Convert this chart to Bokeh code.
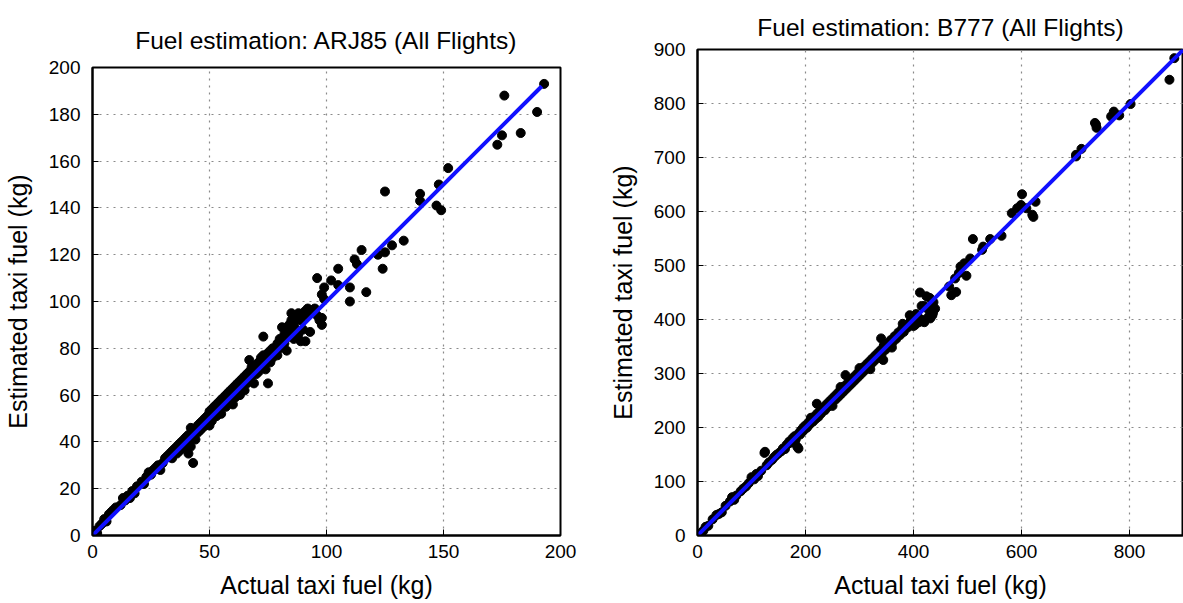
from bokeh.plotting import figure
from bokeh.layouts import row, column
from bokeh.models import FixedTicker, Range1d
from bokeh.embed import file_html
from bokeh.resources import INLINE

# ---------------- data: ARJ85 ----------------
arj_title = "Fuel estimation: ARJ85 (All Flights)"
arj_actual = [
    1, 2, 3, 4, 5, 6, 7, 8, 9, 10,
    12, 13, 14, 15, 16, 17, 18, 19,
    21, 22, 23, 24, 25, 26, 27, 28, 29, 30,
    31, 32, 33, 34, 34, 35, 36, 36, 37, 37, 38, 38, 39, 39, 40, 40, 41, 41, 42, 42, 41, 43,
    43, 44, 44, 45, 45, 46, 46, 47, 47, 48, 48, 49, 49, 50, 50, 50,
    51, 51, 52, 52, 53, 53, 54, 54, 55, 55, 55, 56, 56, 57, 57, 58, 58, 59, 59, 60, 60, 60,
    61, 61, 62, 62, 63, 63, 64, 64, 65, 65, 66, 66, 67, 67, 67, 68, 68, 69, 69, 70, 70,
    71, 71, 72, 72, 73, 73, 74, 74, 75, 75, 76, 76, 77, 77, 78, 78, 79, 79, 80, 80,
    81, 82, 82, 83, 83, 84, 84, 85, 85, 85, 86, 86, 87, 87, 88, 88, 89, 89, 90, 90, 91, 91,
    92, 92, 93, 94, 95, 96, 96, 97, 98, 98, 98, 99, 99,
    102, 105, 105, 110, 110, 112, 113, 115, 117, 122, 124, 125, 125, 128, 133,
    140, 140, 147, 149, 148, 152, 173, 175, 176, 183, 190, 193,
]
arj_estimated = [
    2, 1, 4, 5, 7, 6, 9, 10, 11, 12,
    13, 16, 15, 17, 16, 19, 18, 21,
    23, 22, 25, 27, 26, 28, 29, 30, 28, 31,
    33, 34, 35, 36, 33, 37, 35, 38, 39, 36, 40, 37, 41, 38, 42, 39, 43, 40, 46, 38, 35, 31,
    45, 44, 41, 47, 44, 48, 45, 49, 46, 50, 47, 51, 48, 53, 50, 47,
    54, 49, 55, 52, 56, 51, 57, 53, 58, 55, 52, 59, 56, 60, 55, 61, 58, 62, 57, 63, 60, 56,
    64, 59, 65, 62, 66, 60, 67, 64, 68, 62, 69, 65, 70, 66, 75, 72, 68, 71, 65, 73, 69,
    74, 70, 76, 72, 77, 85, 75, 71, 78, 65, 79, 74, 80, 76, 80, 78, 82, 77, 84, 80,
    89, 86, 82, 88, 79, 90, 85, 87, 92, 95, 90, 84, 93, 88, 95, 86, 92, 83, 95, 88, 96, 83,
    97, 94, 87, 96, 97, 94, 110, 92, 103, 93, 90, 106, 101,
    109, 114, 107, 106, 100, 118, 116, 122, 104, 120, 114, 121, 147, 124, 126,
    146, 143, 141, 139, 150, 157, 167, 171, 188, 172, 181, 193,
]
arj_fit_x = [0, 192]
arj_fit_y = [0, 192]
arj_xticks = [0, 50, 100, 150, 200]
arj_yticks = [0, 20, 40, 60, 80, 100, 120, 140, 160, 180, 200]

# ---------------- data: B777 ----------------
b777_title = "Fuel estimation: B777 (All Flights)"
b777_actual = [
    5, 8, 11, 15, 20, 28, 35, 40, 45, 52, 60, 64, 68, 72, 80, 85, 90, 95, 100, 105,
    109, 112, 118, 124, 125, 128, 132, 138, 142, 146, 150, 155, 158, 162, 165, 168, 170, 174,
    176, 178, 180, 180, 182, 185, 187, 188, 190, 192, 194, 196, 198,
    200, 203, 206, 208, 210, 212, 214, 217, 219, 221, 222, 224, 227, 229, 232, 235, 236, 239, 241,
    244, 246, 249, 250, 251, 254, 256, 259, 261, 264, 265, 266, 269, 271, 274, 274, 276, 279, 281,
    284, 286, 289, 291, 294, 296, 299, 300,
    301, 304, 306, 309, 311, 314, 316, 319, 320, 321, 324, 326, 329, 331, 334, 336, 340, 339, 341,
    344, 345, 346, 348, 352, 355, 358, 360, 361, 365, 368, 372, 375, 379, 380, 382, 386, 389, 393,
    395, 398, 400, 403, 405, 409, 410, 412, 415, 417, 420, 420, 424, 426, 428, 430, 431, 435,
    436, 437, 440,
    466, 470, 477, 479, 484, 487, 494, 498, 505, 510, 527, 529, 542, 563, 582, 592, 599, 601,
    609, 620, 622, 626, 701, 701, 711, 736, 738, 739, 766, 771, 781, 802, 874, 883,
]
b777_estimated = [
    3, 6, 9, 16, 18, 30, 38, 40, 43, 55, 63, 71, 66, 74, 82, 87, 91, 97, 108, 104,
    114, 110, 120, 153, 155, 130, 135, 140, 145, 149, 152, 156, 161, 160, 168, 170, 174, 172,
    180, 175, 184, 172, 178, 164, 161, 190, 187, 195, 192, 200, 196,
    204, 200, 210, 206, 218, 215, 211, 221, 216, 244, 226, 220, 231, 226, 236, 238, 232, 243, 238,
    248, 243, 253, 240, 249, 258, 252, 263, 257, 268, 275, 262, 273, 267, 297, 278, 272, 283, 277,
    288, 282, 293, 287, 298, 292, 303, 310,
    297, 308, 302, 313, 307, 318, 312, 323, 308, 317, 328, 322, 333, 327, 338, 332, 365, 343, 336,
    325, 352, 350, 344, 356, 350, 362, 348, 357, 369, 364, 376, 371, 383, 392, 377, 390, 385, 408,
    398, 392, 388, 390, 410, 404, 395, 450, 425, 399, 425, 395, 443, 420, 405, 440, 402, 408,
    412, 432, 420,
    461, 445, 476, 451, 486, 498, 504, 481, 513, 549, 529, 535, 549, 555, 597, 606, 612, 632,
    606, 594, 590, 618, 705, 702, 716, 764, 761, 755, 776, 785, 778, 799, 844, 884,
]
b777_fit_x = [0, 900]
b777_fit_y = [0, 900]
b777_xticks = [0, 200, 400, 600, 800]
b777_yticks = [0, 100, 200, 300, 400, 500, 600, 700, 800, 900]

x_label = "Actual taxi fuel (kg)"
y_label = "Estimated taxi fuel (kg)"

FONT = "Liberation Sans"


def make_panel(title, xs, ys, fx, fy, xmax, ymax, xticks, yticks,
               width, height, bl, br, bt, bb, title_pad):
    p = figure(width=width, height=height,
               x_range=Range1d(0, xmax), y_range=Range1d(0, ymax),
               output_backend="svg", toolbar_location=None,
               min_border_left=bl, min_border_right=br,
               min_border_top=bt, min_border_bottom=bb,
               title=title)
    p.title.text_font = FONT
    p.title.text_font_size = "24.5px"
    p.title.text_font_style = "normal"
    p.title.align = "center"
    p.title.text_color = "black"
    p.title.standoff = 18
    if title_pad:
        try:
            p.title.padding = title_pad
        except Exception:
            pass

    p.outline_line_color = "black"
    p.outline_line_width = 2
    p.background_fill_color = "white"
    p.border_fill_color = "white"

    p.xaxis.ticker = FixedTicker(ticks=xticks)
    p.yaxis.ticker = FixedTicker(ticks=yticks)
    p.xaxis.axis_label = x_label
    p.yaxis.axis_label = y_label
    for ax in p.xaxis + p.yaxis:
        ax.axis_label_text_font = FONT
        ax.axis_label_text_font_size = "25px"
        ax.axis_label_text_font_style = "normal"
        ax.axis_label_text_color = "black"
        ax.major_label_text_font = FONT
        ax.major_label_text_font_size = "19px"
        ax.major_label_text_color = "black"
        ax.major_tick_in = 6
        ax.major_tick_out = 0
        ax.major_tick_line_color = "black"
        ax.minor_tick_line_color = None
        ax.axis_line_color = "black"
        ax.axis_line_width = 2
    p.xaxis.major_label_standoff = 9
    p.xaxis.axis_label_standoff = 10
    p.yaxis.major_label_standoff = 12
    p.yaxis.axis_label_standoff = 14

    p.xgrid.ticker = FixedTicker(ticks=xticks)
    p.ygrid.ticker = FixedTicker(ticks=yticks)
    for g in (p.xgrid, p.ygrid):
        g.grid_line_color = "#8a8a8a"
        g.grid_line_dash = "2 5"
        g.grid_line_width = 1.2

    p.scatter(xs, ys, size=9, color="black", marker="circle")
    p.line(fx, fy, line_color="#1010ff", line_width=4)
    return p


p1 = make_panel(arj_title, arj_actual, arj_estimated, arj_fit_x, arj_fit_y,
                200, 200, arj_xticks, arj_yticks,
                width=590, height=602, bl=92, br=30, bt=67, bb=67, title_pad=5)
p2 = make_panel(b777_title, b777_actual, b777_estimated, b777_fit_x, b777_fit_y,
                900, 900, b777_xticks, b777_yticks,
                width=593, height=602, bl=107, br=0, bt=49, bb=67, title_pad=0)

layout = row(column(p1), column(p2))
open("out.html", "w").write(file_html(layout, INLINE))
